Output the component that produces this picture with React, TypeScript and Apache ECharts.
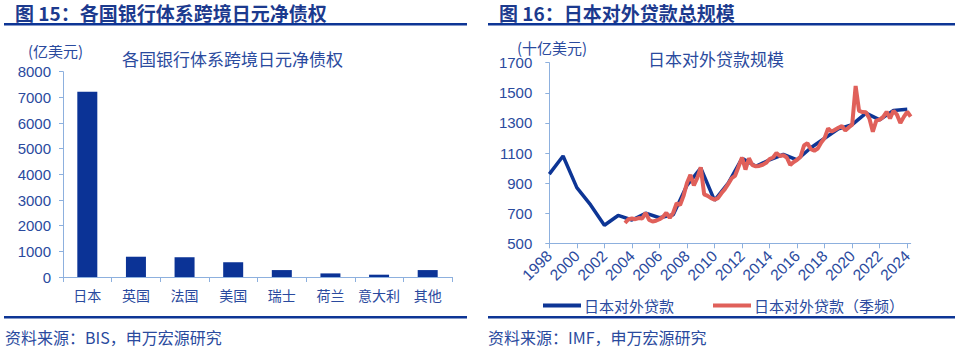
import React, { useEffect, useRef } from "react";
import * as echarts from "echarts";

// ---- Left chart data (亿美元) ----
const bankCategories = ["日本", "英国", "法国", "美国", "瑞士", "荷兰", "意大利", "其他"];
const bankValues = [7220, 790, 770, 575, 270, 140, 90, 270];

// ---- Right chart data (十亿美元) ----
const annualYears = [1998, 1999, 2000, 2001, 2002, 2003, 2004, 2005, 2006, 2007, 2008, 2009, 2010, 2011, 2012, 2013, 2014, 2015, 2016, 2017, 2018, 2019, 2020, 2021, 2022, 2023, 2024];
const annualValues = [960, 1080, 870, 755, 620, 685, 655, 700, 670, 690, 885, 1000, 785, 900, 1065, 1012, 1055, 1090, 1055, 1135, 1198, 1260, 1288, 1365, 1320, 1383, 1390];

const quarterlyStart = 2003.5; // first quarter position on the year axis
const quarterlyValues = [
  635, 660,
  665, 660, 668, 665,
  703, 655, 645, 650,
  660, 675, 703, 668,
  703, 766, 755, 815,
  900, 955, 885, 935,
  1005, 825, 815, 800,
  790, 800, 832, 860,
  895, 932, 950, 1010,
  1070, 990, 1065, 1020,
  1012, 1014, 1022, 1035,
  1060, 1070, 1100, 1080,
  1085, 1070, 1020, 1040,
  1055, 1075, 1150, 1165,
  1125, 1115, 1130, 1170,
  1200, 1264, 1242, 1255,
  1268, 1279, 1250, 1270,
  1288, 1545, 1380, 1372,
  1370, 1330, 1242, 1315,
  1322, 1340, 1374, 1330,
  1381, 1355, 1300, 1340,
  1374, 1341,
];

const leftYTicks = { min: 0, max: 8000, interval: 1000 };
const rightYTicks = { min: 500, max: 1700, interval: 200 };
const rightXTicks = { min: 1998, max: 2024.25, interval: 2 };

const FONT = "'Liberation Sans', 'Noto Sans CJK SC', sans-serif";
const CJK = "'Noto Sans CJK SC', 'Liberation Sans', sans-serif";
const TEXT_BLUE = "#2A4A9E";
const TITLE_BLUE = "#1C3A8E";
const LINE_BLUE = "#0D3595";
const AXIS_BLUE = "#8DB0DE";
const BAR_BLUE = "#0B3396";
const RED = "#E0605A";

export default function App() {
  const ref = useRef<HTMLDivElement>(null);
  useEffect(() => {
    if (!ref.current) return;
    const chart = echarts.init(ref.current, undefined, { renderer: "svg" });

    const annualData = annualYears.map((y, i) => [y, annualValues[i]]);
    const quarterlyData = quarterlyValues.map((v, i) => [quarterlyStart + i * 0.25, v]);

    const plain = (v: number) => String(v);
    const axisLabelStyle = { color: TEXT_BLUE, fontFamily: FONT, fontSize: 15, formatter: plain };

    chart.setOption({
      animation: false,
      textStyle: { fontFamily: FONT },
      grid: [
        { left: 63, right: 966 - 452, top: 71.7, bottom: 353 - 277, containLabel: false },
        { left: 549.3, right: 966 - 910.7, top: 62.7, bottom: 353 - 243.3, containLabel: false },
      ],
      xAxis: [
        {
          gridIndex: 0,
          type: "category",
          data: bankCategories,
          axisLine: { lineStyle: { color: AXIS_BLUE, width: 1 } },
          axisTick: { show: true, length: 5, lineStyle: { color: AXIS_BLUE } },
          axisLabel: { color: TEXT_BLUE, fontFamily: CJK, fontSize: 14, margin: 11, interval: 0 },
          splitLine: { show: false },
        },
        {
          gridIndex: 1,
          type: "value",
          min: rightXTicks.min,
          max: rightXTicks.max,
          interval: rightXTicks.interval,
          axisLine: { lineStyle: { color: AXIS_BLUE, width: 1 } },
          axisTick: { show: true, length: 5, lineStyle: { color: AXIS_BLUE } },
          axisLabel: {
            color: TEXT_BLUE,
            fontFamily: FONT,
            fontSize: 15.5,
            rotate: 45,
            margin: 10,
            showMaxLabel: false,
            formatter: (v: number) => (Number.isInteger(v) ? String(v) : ""),
          },
          splitLine: { show: false },
        },
      ],
      yAxis: [
        {
          gridIndex: 0,
          type: "value",
          min: leftYTicks.min,
          max: leftYTicks.max,
          interval: leftYTicks.interval,
          axisLine: { show: true, lineStyle: { color: AXIS_BLUE, width: 1 } },
          axisTick: { show: true, length: 4, lineStyle: { color: AXIS_BLUE } },
          axisLabel: { ...axisLabelStyle, margin: 12 },
          splitLine: { show: false },
        },
        {
          gridIndex: 1,
          type: "value",
          min: rightYTicks.min,
          max: rightYTicks.max,
          interval: rightYTicks.interval,
          axisLine: { show: true, lineStyle: { color: AXIS_BLUE, width: 1 } },
          axisTick: { show: true, length: 4, lineStyle: { color: AXIS_BLUE } },
          axisLabel: { ...axisLabelStyle, margin: 17 },
          splitLine: { show: false },
        },
      ],
      legend: {
        left: 538,
        top: 293,
        icon: "rect",
        itemWidth: 38,
        itemHeight: 4,
        itemGap: 39,
        textStyle: { color: TEXT_BLUE, fontFamily: CJK, fontSize: 15, padding: [0, 0, 0, -2] },
        data: ["日本对外贷款", "日本对外贷款（季频）"],
      },
      series: [
        {
          name: "各国银行体系跨境日元净债权",
          type: "bar",
          xAxisIndex: 0,
          yAxisIndex: 0,
          data: bankValues,
          barWidth: 20,
          itemStyle: { color: BAR_BLUE },
        },
        {
          name: "日本对外贷款",
          type: "line",
          xAxisIndex: 1,
          yAxisIndex: 1,
          data: annualData,
          showSymbol: false,
          symbol: "none",
          lineStyle: { color: LINE_BLUE, width: 3.5 },
          itemStyle: { color: LINE_BLUE },
          z: 2,
        },
        {
          name: "日本对外贷款（季频）",
          type: "line",
          xAxisIndex: 1,
          yAxisIndex: 1,
          data: quarterlyData,
          showSymbol: false,
          symbol: "none",
          lineStyle: { color: RED, width: 4 },
          itemStyle: { color: RED },
          z: 3,
        },
      ],
      graphic: [
        // headers
        { type: "text", x: 15, y: 12, style: { text: "图 15：各国银行体系跨境日元净债权", fill: TITLE_BLUE, font: `bold 19px ${CJK}`, verticalAlign: "middle" } },
        { type: "text", x: 499, y: 12, style: { text: "图 16：日本对外贷款总规模", fill: TITLE_BLUE, font: `bold 19px ${CJK}`, verticalAlign: "middle" } },
        { type: "rect", shape: { x: 4, y: 23, width: 463, height: 2.5 }, style: { fill: LINE_BLUE } },
        { type: "rect", shape: { x: 488, y: 23, width: 467, height: 2.5 }, style: { fill: LINE_BLUE } },
        // chart inner titles
        { type: "text", x: 232.5, y: 58, style: { text: "各国银行体系跨境日元净债权", fill: TEXT_BLUE, font: `17px ${CJK}`, align: "center", verticalAlign: "middle" } },
        { type: "text", x: 716, y: 58, style: { text: "日本对外贷款规模", fill: TEXT_BLUE, font: `17px ${CJK}`, align: "center", verticalAlign: "middle" } },
        // units
        { type: "text", x: 28, y: 50, style: { text: "(亿美元)", fill: TEXT_BLUE, font: `15px ${CJK}`, verticalAlign: "middle" } },
        { type: "rect", z: 100, shape: { x: 20, y: 30, width: 75, height: 15 }, style: { fill: "#ffffff" } },
        { type: "text", x: 517, y: 47, style: { text: "(十亿美元)", fill: TEXT_BLUE, font: `15px ${CJK}`, verticalAlign: "middle" } },
        // footers
        { type: "rect", shape: { x: 4, y: 316, width: 463, height: 2.5 }, style: { fill: LINE_BLUE } },
        { type: "rect", shape: { x: 488, y: 316, width: 467, height: 2.5 }, style: { fill: LINE_BLUE } },
        { type: "text", x: 5, y: 337, style: { text: "资料来源：BIS，申万宏源研究", fill: TEXT_BLUE, font: `16px ${CJK}`, verticalAlign: "middle" } },
        { type: "text", x: 488, y: 337, style: { text: "资料来源：IMF，申万宏源研究", fill: TEXT_BLUE, font: `16px ${CJK}`, verticalAlign: "middle" } },
      ],
    });
    return () => chart.dispose();
  }, []);
  return (
    <div
      ref={ref}
      style={{ position: "fixed", left: 0, top: 0, width: 966, height: 353, background: "#ffffff" }}
    />
  );
}
